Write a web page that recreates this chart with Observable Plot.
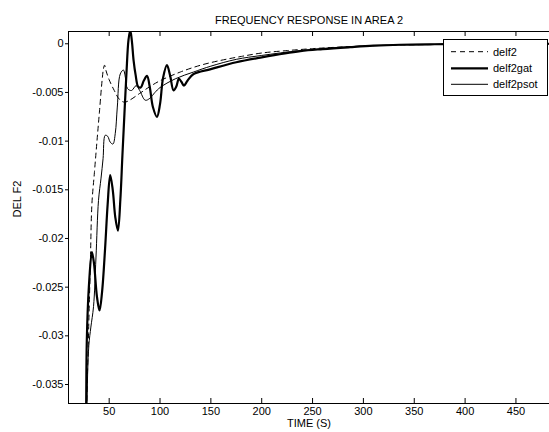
<!DOCTYPE html>
<html><head><meta charset="utf-8">
<script src="https://cdn.jsdelivr.net/npm/d3@7"></script>
<script src="https://cdn.jsdelivr.net/npm/@observablehq/plot@0.6"></script>
<style>
body{margin:0;background:#fff;}
#wrap{position:relative;width:549px;height:432px;font-family:"Liberation Sans",Arial,sans-serif;}
#legend{position:absolute;left:443px;top:39px;width:105px;height:57px;border:1px solid #000;background:#fff;box-sizing:border-box;}
</style></head><body><div id="wrap"><div id="legend"></div></div>
<script>
const title = "FREQUENCY RESPONSE IN AREA 2";
const xLabel = "TIME (S)";
const yLabel = "DEL F2";
const seriesNames = ["delf2", "delf2gat", "delf2psot"];
const xTicks = [50, 100, 150, 200, 250, 300, 350, 400, 450];
const yTicks = [0, -0.005, -0.01, -0.015, -0.02, -0.025, -0.03, -0.035];
const xDomain = [10, 483];
const yDomain = [-0.03695, 0.00126];

const delf2T = [27, 28.1, 29.7, 31.5, 33, 35.5, 38, 40.5, 43, 44.5, 45.5, 47, 50, 55, 60, 65, 70, 80, 90, 100, 120, 140, 160, 180, 200, 225, 250, 275, 300, 325, 350, 375, 400, 450, 483];
const delf2V = [-0.045, -0.0366, -0.0298, -0.0225, -0.0165, -0.0132, -0.0100, -0.0069, -0.0038, -0.0025, -0.0022, -0.0028, -0.0037, -0.0048, -0.0057, -0.006, -0.0058, -0.0051, -0.0044, -0.0038, -0.0029, -0.0022, -0.0017, -0.0013, -0.00095, -0.0007, -0.0005, -0.00035, -0.00024, -0.00015, -0.0001, -0.00007, -0.00005, -0.00002, -0.00001];

const gatT = [26.8, 27.4, 28, 30, 33, 35, 38, 40.5, 43, 46, 48.5, 51, 53.5, 56, 58.6, 61, 63, 65, 67, 69, 70.7, 72.3, 74, 76, 78.5, 81, 84, 87.2, 90, 93, 97, 100, 103, 106.8, 110, 113.3, 116, 118.5, 121, 123.5, 127, 133, 150, 175, 200, 238, 260, 287, 310, 336, 370, 400, 450, 483];
const gatV = [-0.045, -0.037, -0.0305, -0.025, -0.0214, -0.0225, -0.026, -0.0274, -0.0255, -0.021, -0.0165, -0.0135, -0.015, -0.0178, -0.0192, -0.016, -0.0115, -0.0072, -0.003, 0.0004, 0.0014, 0.0003, -0.0017, -0.0032, -0.0044, -0.0045, -0.0038, -0.0033, -0.0045, -0.0065, -0.0075, -0.0062, -0.0035, -0.0022, -0.0033, -0.0048, -0.0044, -0.0036, -0.0039, -0.0043, -0.0038, -0.0031, -0.0026, -0.0019, -0.0014, -0.00076, -0.00055, -0.00035, -0.0002, -0.0001, -0.00005, -0.00003, -0.00001, 0];

const psotT = [27.3, 28.1, 30, 32, 34.6, 37, 39.5, 42, 44, 46.1, 48.5, 51, 53.7, 56, 58, 60.9, 64, 66, 68, 72, 76.5, 80, 85.5, 90, 95, 100, 115, 133, 150, 175, 200, 238, 287, 336, 400, 450, 483];
const psotV = [-0.045, -0.037, -0.031, -0.0291, -0.027, -0.022, -0.0161, -0.0138, -0.0118, -0.0094, -0.0095, -0.0101, -0.0103, -0.0092, -0.0065, -0.0031, -0.0027, -0.0035, -0.0046, -0.0048, -0.0043, -0.0048, -0.0058, -0.0056, -0.005, -0.0045, -0.0036, -0.0029, -0.0023, -0.0016, -0.0012, -0.0007, -0.0003, -0.0001, -0.00004, -0.00002, -0.00001];

const toRows = (T, V) => T.map((t, i) => ({time: t, value: V[i]}));
const delf2 = toRows(delf2T, delf2V);
const delf2gat = toRows(gatT, gatV);
const delf2psot = toRows(psotT, psotV);

const styles = [
  {strokeWidth: 1, dash: "5,4"},
  {strokeWidth: 2.2, dash: null},
  {strokeWidth: 1, dash: null}
];

const chart = Plot.plot({
  width: 549, height: 432,
  marginLeft: 68, marginRight: 0, marginTop: 31, marginBottom: 29,
  style: {fontFamily: "Liberation Sans, Arial, sans-serif", fontSize: "11px", color: "#000", background: "#fff"},
  x: {domain: xDomain},
  y: {domain: yDomain},
  marks: [
    Plot.line(delf2, {x: "time", y: "value", stroke: "#000", strokeWidth: styles[0].strokeWidth, strokeDasharray: styles[0].dash, curve: "catmull-rom", clip: true}),
    Plot.line(delf2psot, {x: "time", y: "value", stroke: "#000", strokeWidth: styles[2].strokeWidth, curve: "catmull-rom", clip: true}),
    Plot.line(delf2gat, {x: "time", y: "value", stroke: "#000", strokeWidth: styles[1].strokeWidth, curve: "catmull-rom", clip: true}),
    Plot.ruleY([yDomain[1]], {stroke: "#000"}),
    Plot.ruleY([yDomain[0]], {stroke: "#000"}),
    Plot.ruleX([xDomain[0]], {stroke: "#000"}),
    Plot.tickX(xTicks, {x: d => d, insetTop: 367, stroke: "#000"}),
    Plot.tickX(xTicks, {x: d => d, insetBottom: 367, stroke: "#000"}),
    Plot.axisX(xTicks, {anchor: "bottom", tickSize: 0, tickPadding: 4, label: null, fontSize: 11}),
    Plot.axisY(yTicks, {anchor: "left", tickSize: 3, tickPadding: 2, label: null, fontSize: 11, tickFormat: d => String(d)}),
    Plot.text([title], {text: d => d, frameAnchor: "top", dy: -15, fontSize: 11}),
    Plot.text([xLabel], {text: d => d, frameAnchor: "bottom", dy: 23, fontSize: 11}),
    Plot.text([yLabel], {text: d => d, frameAnchor: "left", dx: -51, rotate: -90, fontSize: 11})
  ]
});
const wrap = document.getElementById("wrap");
wrap.insertBefore(chart, wrap.firstChild);

// legend
const leg = d3.select("#legend").append("svg").attr("width", 103).attr("height", 55)
  .style("position", "absolute").style("left", "0").style("top", "0");
const rowY = [11.7, 28.3, 44.3];
seriesNames.forEach((name, i) => {
  leg.append("line").attr("x1", 7).attr("x2", 44).attr("y1", rowY[i]).attr("y2", rowY[i])
    .attr("stroke", "#000").attr("stroke-width", styles[i].strokeWidth)
    .attr("stroke-dasharray", styles[i].dash);
  leg.append("text").attr("x", 49).attr("y", rowY[i]).attr("dy", "0.35em")
    .attr("font-size", 11).attr("font-family", "Liberation Sans, Arial, sans-serif").text(name);
});
</script></body></html>
